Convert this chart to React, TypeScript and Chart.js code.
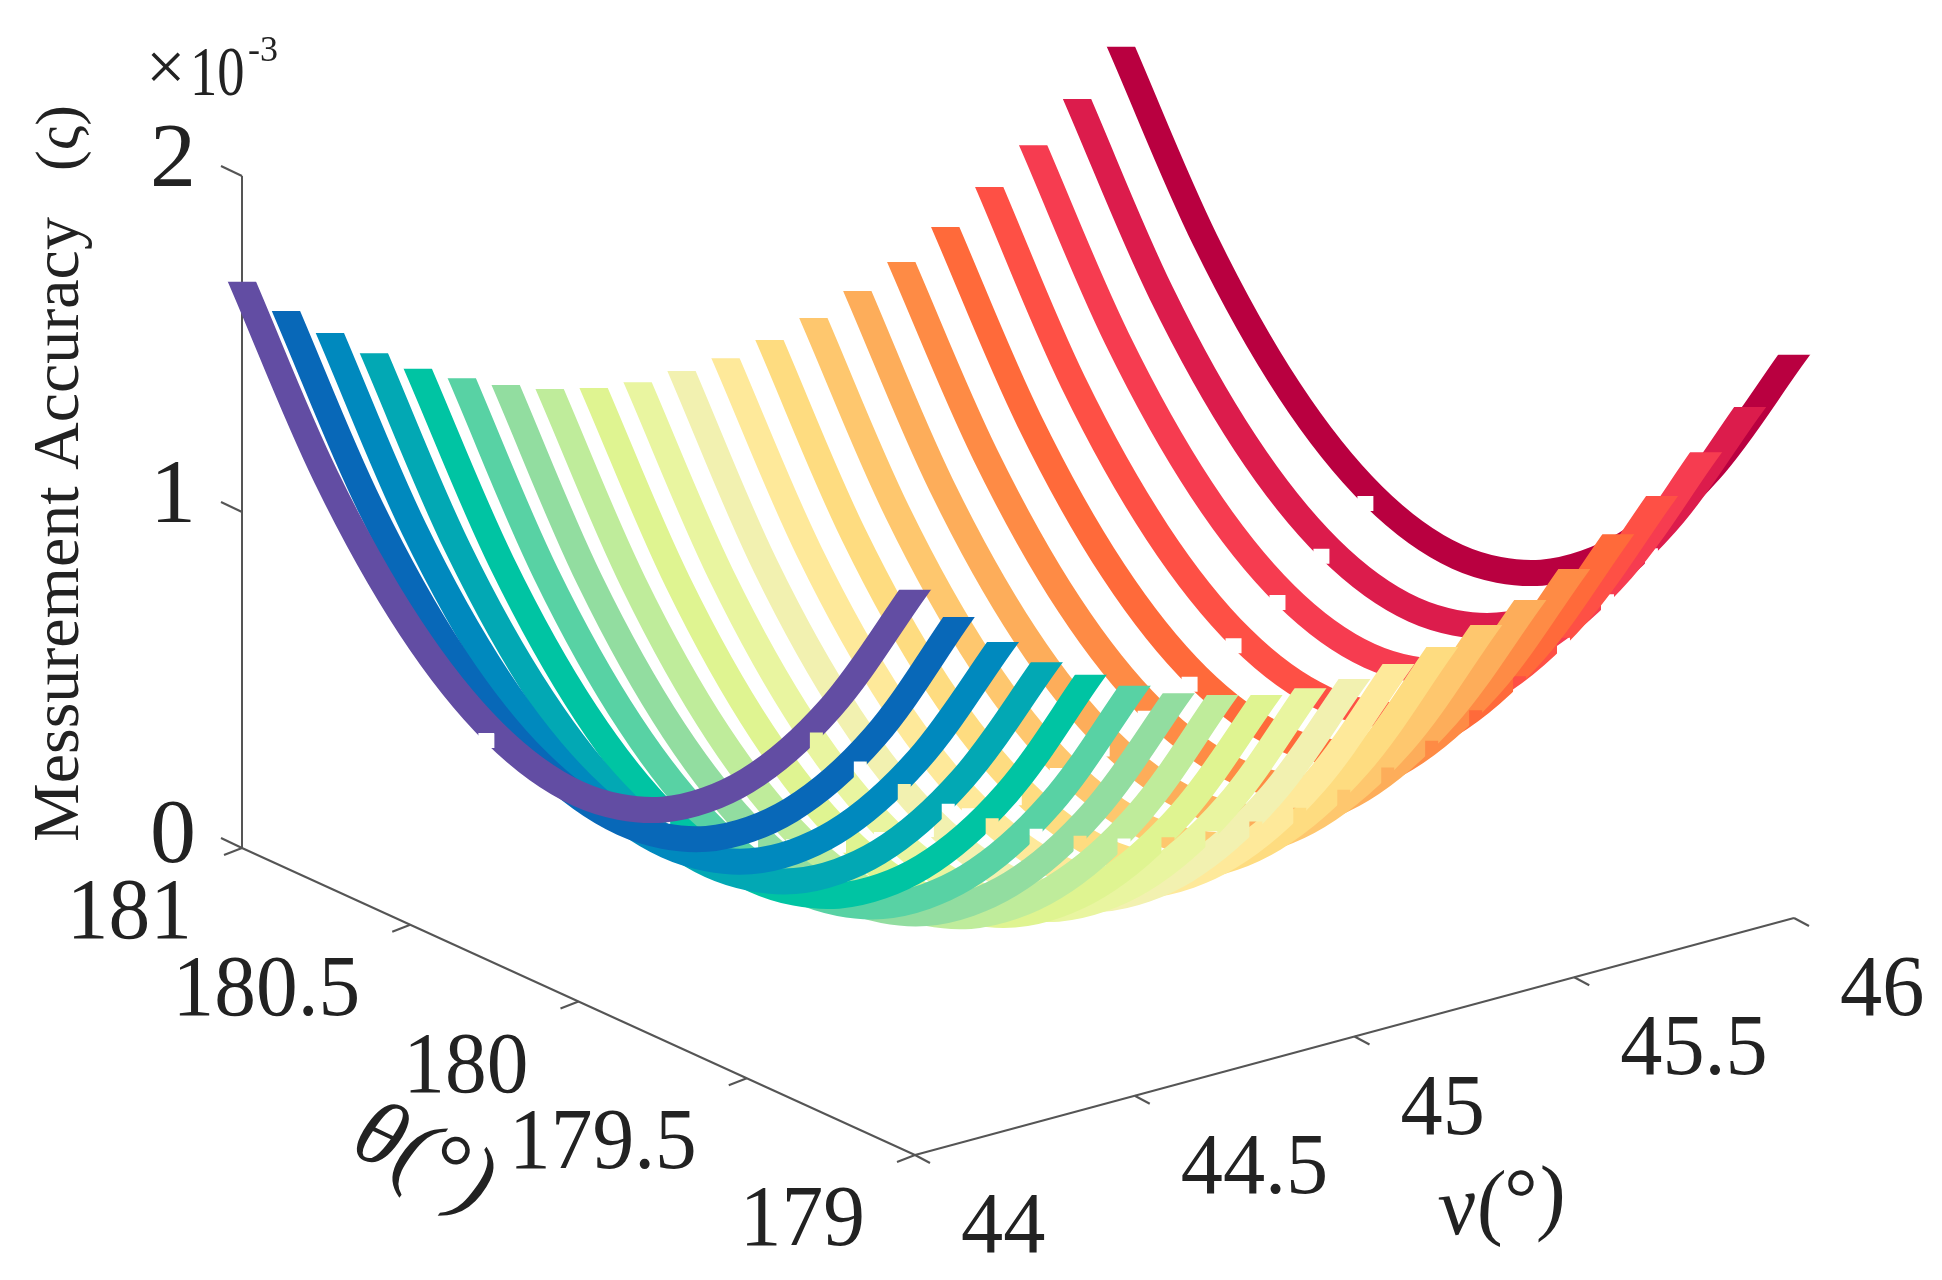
import React, { useEffect, useRef } from 'react';
import Chart from 'chart.js/auto';

const SERIF = '"Liberation Serif"';

// angle samples along every ribbon, and one ribbon per nu value
const thetaSamples = [181, 180.75, 180.5, 180.25, 180, 179.75, 179.5, 179.25, 179];
const nuValues = [44, 44.1, 44.2, 44.3, 44.4, 44.5, 44.6, 44.7, 44.8, 44.9, 45, 45.1, 45.2, 45.3, 45.4, 45.5, 45.6, 45.7, 45.8, 45.9, 46];

// accuracy in units of 1e-3, one row per ribbon
const accuracy44 = [1.685, 1.218, 0.885, 0.685, 0.618, 0.685, 0.885, 1.218, 1.682];
const accuracy441 = [1.563, 1.096, 0.763, 0.563, 0.496, 0.563, 0.763, 1.096, 1.566];
const accuracy442 = [1.462, 0.994, 0.661, 0.461, 0.394, 0.461, 0.661, 0.994, 1.456];
const accuracy443 = [1.367, 0.9, 0.567, 0.367, 0.3, 0.367, 0.567, 0.9, 1.361];
const accuracy444 = [1.285, 0.821, 0.488, 0.288, 0.221, 0.288, 0.488, 0.821, 1.288];
const accuracy445 = [1.222, 0.755, 0.422, 0.222, 0.155, 0.222, 0.422, 0.755, 1.22];
const accuracy446 = [1.166, 0.699, 0.366, 0.166, 0.099, 0.166, 0.366, 0.699, 1.163];
const accuracy447 = [1.119, 0.655, 0.322, 0.122, 0.055, 0.122, 0.322, 0.655, 1.122];
const accuracy448 = [1.087, 0.624, 0.291, 0.091, 0.024, 0.091, 0.291, 0.624, 1.087];
const accuracy449 = [1.069, 0.606, 0.273, 0.073, 0.006, 0.073, 0.273, 0.606, 1.072];
const accuracy45 = [1.067, 0.6, 0.267, 0.067, 0, 0.067, 0.267, 0.6, 1.064];
const accuracy451 = [1.07, 0.606, 0.273, 0.073, 0.006, 0.073, 0.273, 0.606, 1.073];
const accuracy452 = [1.089, 0.624, 0.291, 0.091, 0.024, 0.091, 0.291, 0.624, 1.089];
const accuracy453 = [1.119, 0.655, 0.322, 0.122, 0.055, 0.122, 0.322, 0.655, 1.119];
const accuracy454 = [1.164, 0.699, 0.366, 0.166, 0.099, 0.166, 0.366, 0.699, 1.158];
const accuracy455 = [1.215, 0.755, 0.422, 0.222, 0.155, 0.222, 0.422, 0.755, 1.215];
const accuracy456 = [1.284, 0.821, 0.488, 0.288, 0.221, 0.288, 0.488, 0.821, 1.283];
const accuracy457 = [1.368, 0.9, 0.567, 0.367, 0.3, 0.367, 0.567, 0.9, 1.362];
const accuracy458 = [1.457, 0.994, 0.661, 0.461, 0.394, 0.461, 0.661, 0.994, 1.457];
const accuracy459 = [1.559, 1.096, 0.763, 0.563, 0.496, 0.563, 0.763, 1.096, 1.556];
const accuracy46 = [1.679, 1.218, 0.885, 0.685, 0.618, 0.685, 0.885, 1.218, 1.676];

const accuracyRows = [
  accuracy44, accuracy441, accuracy442, accuracy443, accuracy444, accuracy445, accuracy446,
  accuracy447, accuracy448, accuracy449, accuracy45, accuracy451, accuracy452, accuracy453,
  accuracy454, accuracy455, accuracy456, accuracy457, accuracy458, accuracy459, accuracy46,
];

const ribbonColors = [
  '#624DA3', '#0868B8', '#0089BE', '#02A8B4', '#00C4A3', '#58D2A4', '#92DDA0',
  '#BFEC9B', '#DFF491', '#E9F5A0', '#F2F1B0', '#FEE99A', '#FEDC80', '#FEC76E',
  '#FDAD5A', '#FE8B45', '#FF6A3A', '#FE5045', '#F63C50', '#DC1C4C', '#B90040',
];

const thetaTicks = [181, 180.5, 180, 179.5, 179];
const nuTicks = [44, 44.5, 45, 45.5, 46];
const zTicks = [0, 1, 2];

// the matlab view, flattened to the page
function project(theta: number, nu: number, z: number) {
  return {
    x: 242 + (181 - theta) * 336.5 + (nu - 44) * 439.5,
    y: 848 + (181 - theta) * 153.5 - (nu - 44) * 118.5 - z * 336,
  };
}

function segment(a: { x: number; y: number }, dx: number, dy: number) {
  return [a, { x: a.x + dx, y: a.y + dy }];
}

function axisLine(data: { x: number; y: number }[], width = 2) {
  return { data, borderColor: '#555555', borderWidth: width, pointRadius: 0, tension: 0, clip: false, isAxis: true };
}

function buildDatasets() {
  const ribbons = nuValues.map((nu, i) => ({
    data: thetaSamples.map((t, j) => project(t, nu, accuracyRows[i][j])),
    borderColor: ribbonColors[i],
    borderWidth: 26,
    borderCapStyle: 'square',
    borderJoinStyle: 'round',
    pointRadius: 0,
    tension: 0.33,
    clip: false,
    isRibbon: true,
  }));
  const axes = [
    axisLine([project(181, 44, 0), project(181, 44, 2)]),
    axisLine([project(181, 44, 0), project(179, 44, 0)]),
    axisLine([project(179, 44, 0), project(179, 46, 0)]),
  ];
  zTicks.forEach((z) => axes.push(axisLine(segment(project(181, 44, z), -21, -10))));
  thetaTicks.forEach((t) => axes.push(axisLine(segment(project(t, 44, 0), -18, 7))));
  nuTicks.forEach((n) => axes.push(axisLine(segment(project(179, n, 0), 15, 8))));
  return [...ribbons, ...axes];
}

function drawText(ctx: CanvasRenderingContext2D, text: string, x: number, y: number, font: string, align: CanvasTextAlign, squeeze = 1, angle = 0) {
  ctx.save();
  ctx.translate(x, y);
  ctx.rotate(angle);
  ctx.scale(squeeze, 1);
  ctx.font = font;
  ctx.textAlign = align;
  ctx.textBaseline = 'alphabetic';
  ctx.fillStyle = '#222222';
  ctx.fillText(text, 0, 0);
  ctx.restore();
}

// ribbons end in a level cut, and each one has two small stair notches on its lower edge
const ribbonCuts = {
  id: 'ribbonCuts',
  beforeDatasetDraw(chart: any, args: any) {
    const ds: any = chart.data.datasets[args.index];
    if (!ds.isRibbon) return;
    const pts = args.meta.data;
    const first = pts[0];
    const last = pts[pts.length - 1];
    const mid = pts[4].x;
    const ctx = chart.ctx;
    ctx.save();
    ctx.beginPath();
    ctx.rect(0, first.y, mid, chart.height - first.y);
    ctx.rect(mid, last.y, chart.width - mid, chart.height - last.y);
    ctx.rect(pts[3].x - 16, pts[3].y, 16, 15);
    ctx.rect(pts[7].x - 21, pts[7].y + 25, 13, 17);
    ctx.clip('evenodd');
  },
  afterDatasetDraw(chart: any, args: any) {
    const ds: any = chart.data.datasets[args.index];
    if (ds.isRibbon) chart.ctx.restore();
  },
};

const axisText = {
  id: 'axisText',
  afterDraw(chart: any) {
    const ctx = chart.ctx;
    const sx = chart.scales.x;
    const sy = chart.scales.y;
    const tickFont = `86px ${SERIF}`;
    zTicks.forEach((z) => {
      const p = project(181, 44, z);
      drawText(ctx, String(z), sx.getPixelForValue(p.x) - 46, sy.getPixelForValue(p.y) + (z === 0 ? 14 : 10), `92px ${SERIF}`, 'right');
    });
    thetaTicks.forEach((t) => {
      const p = project(t, 44, 0);
      drawText(ctx, String(t), sx.getPixelForValue(p.x) - 50, sy.getPixelForValue(p.y) + 90, tickFont, 'right', 0.97);
    });
    nuTicks.forEach((n) => {
      const p = project(179, n, 0);
      drawText(ctx, String(n), sx.getPixelForValue(p.x) + 46, sy.getPixelForValue(p.y) + 97, tickFont, 'left', 0.98);
    });
    drawText(ctx, '×', 146, 90, `70px ${SERIF}`, 'left');
    drawText(ctx, '10', 190, 95, `70px ${SERIF}`, 'left', 0.78);
    drawText(ctx, '-3', 248, 61, `36px ${SERIF}`, 'left');
    drawText(ctx, 'Messurement Accuracy', 78, 842, `66px ${SERIF}`, 'left', 1, -Math.PI / 2);
    drawText(ctx, '(ς)', 78, 171, `62px ${SERIF}`, 'left', 1, -Math.PI / 2);
    drawText(ctx, 'θ(°)', 348, 1152, `italic 92px ${SERIF}`, 'left', 1, 0.44);
    drawText(ctx, 'ν(°)', 1442, 1236, `italic 84px ${SERIF}`, 'left', 1, -0.12);
  },
};

function App() {
  const chartRef = useRef<HTMLCanvasElement | null>(null);

  useEffect(() => {
    document.body.style.margin = '0';
    const ctx = chartRef.current?.getContext('2d');
    if (!ctx) return;
    const chart = new Chart(ctx, {
      type: 'line',
      data: { datasets: buildDatasets() as any },
      plugins: [ribbonCuts, axisText],
      options: {
        animation: false,
        responsive: false,
        devicePixelRatio: 1,
        layout: { padding: 0 },
        scales: {
          x: { type: 'linear', min: 0, max: 1942, display: false },
          y: { type: 'linear', min: 0, max: 1280, reverse: true, display: false },
        },
        plugins: { legend: { display: false }, tooltip: { enabled: false } },
      },
    });
    return () => chart.destroy();
  }, []);

  return <canvas ref={chartRef} width={1942} height={1280} style={{ display: 'block', background: '#fff' }} />;
}

export default App;
